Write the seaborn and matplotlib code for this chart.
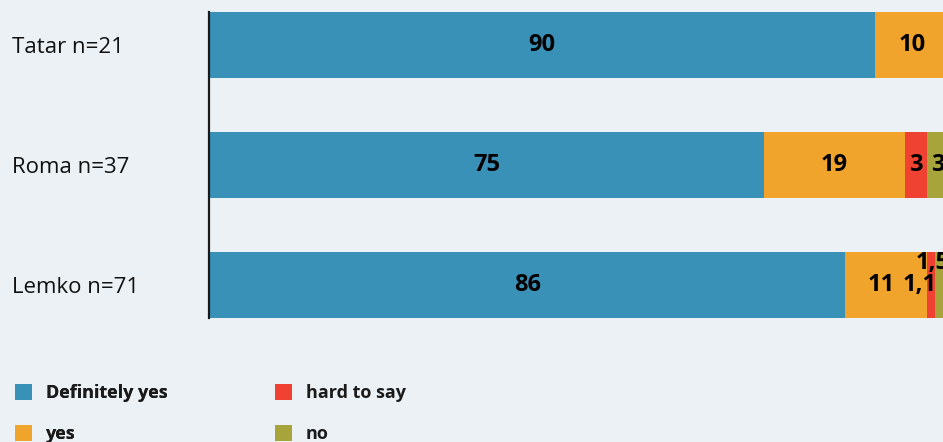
import matplotlib
matplotlib.use("Agg")
import matplotlib.pyplot as plt
from matplotlib.patches import Patch
import seaborn as sns
import pandas as pd
import numpy as np

# Survey answers by group (percent)
groups = ["Tatar n=21", "Roma n=37", "Lemko n=71"]
definitely_yes = [90, 75, 86]
yes = [10, 19, 11]
hard_to_say = [0, 3, 1.1]
no = [0, 3, 1.5]

series_names = ["Definitely yes", "yes", "hard to say", "no"]
series_values = [definitely_yes, yes, hard_to_say, no]
colors = ["#3A91B7", "#F0A42B", "#F04232", "#A6A43A"]
bg = "#ECF1F5"

sns.set_theme(style="white")
plt.rcParams["font.family"] = ["Open Sans", "DejaVu Sans"]

fig = plt.figure(figsize=(9.43, 4.42), dpi=100, facecolor=bg)
W, H = 943, 442
ax = fig.add_axes([209 / W, 1 - 318 / H, 1 - 209 / W, (318 - 12) / H])
ax.set_facecolor(bg)

vals = np.array(series_values, dtype=float)
cum = np.cumsum(vals, axis=0)

# Stacked bars: draw cumulative totals from the outermost segment inwards
for i in range(len(series_names) - 1, -1, -1):
    df = pd.DataFrame({"group": groups, "value": cum[i]})
    sns.barplot(data=df, x="value", y="group", orient="h", color=colors[i],
                saturation=1, width=0.55, ax=ax, order=groups,
                linewidth=0, edgecolor="none")

ax.set_xlim(0, 99.2)
ax.set_ylim(2.275, -0.275)
ax.set_xlabel("")
ax.set_ylabel("")
ax.set_xticks([])

# Segment value labels
def fmt(v):
    return f"{v:g}".replace(".", ",")

offsets = {(2, 2): (-11, 0), (2, 3): (-8, 22), (2, 1): (-5, 0)}
for i in range(len(series_names)):
    for j in range(len(groups)):
        v = vals[i, j]
        if v <= 0:
            continue
        center = cum[i, j] - v / 2
        dx, dy = offsets.get((j, i), (0, 0))
        ax.annotate(fmt(v), xy=(center, j), xytext=(dx * 0.72, dy * 0.72),
                    textcoords="offset points", ha="center", va="center",
                    fontsize=17, fontweight="bold", color="black",
                    annotation_clip=False)

# Left-aligned group labels
ax.tick_params(axis="y", length=0, pad=197 * 0.72, labelsize=16)
for lbl in ax.get_yticklabels():
    lbl.set_horizontalalignment("left")
    lbl.set_color("#111111")

for side in ["top", "right", "bottom"]:
    ax.spines[side].set_visible(False)
ax.spines["left"].set_color("#1a1a1a")
ax.spines["left"].set_linewidth(1.6)

# Legend in two columns
def make_legend(idx, x_px):
    handles = [Patch(facecolor=colors[k], edgecolor="none") for k in idx]
    leg = fig.legend(handles, [series_names[k] for k in idx],
                     loc="upper left", bbox_to_anchor=(x_px / W, 1 - 384 / H),
                     frameon=False, borderpad=0, borderaxespad=0,
                     handlelength=0.95, handleheight=0.95, handletextpad=0.75,
                     labelspacing=1.3, prop={"weight": "bold", "size": 13})
    for t in leg.get_texts():
        t.set_color("#1a1a1a")
    return leg

leg1 = make_legend([0, 1], 15)
fig.add_artist(leg1)
make_legend([2, 3], 275)

fig.savefig("out.png", dpi=100, facecolor=bg)
